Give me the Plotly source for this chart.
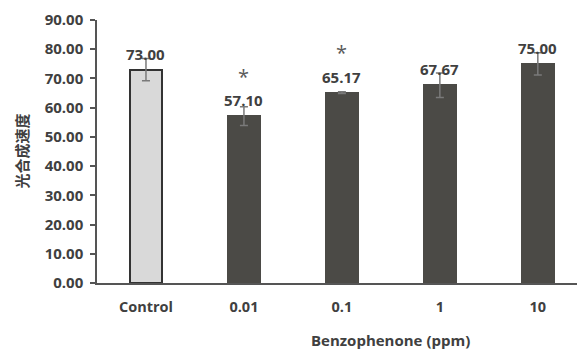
import plotly.graph_objects as go

categories = ["Control", "0.01", "0.1", "1", "10"]
values = [73.00, 57.10, 65.17, 67.67, 75.00]
errors = [3.8, 3.2, 0.3, 4.2, 3.8]
labels = ["73.00", "57.10", "65.17", "67.67", "75.00"]
significant = [False, True, True, False, False]
y_ticks = [0, 10, 20, 30, 40, 50, 60, 70, 80, 90]

txt = "#404040"
font_main = "Open Sans, Noto Sans, sans-serif"

fill_colors = ["#d9d9d9"] + ["#4b4a46"] * 4
line_colors = ["#333333"] + ["#4b4a46"] * 4

fig = go.Figure()
fig.add_trace(go.Bar(
    x=categories, y=values,
    width=0.33,
    marker=dict(color=fill_colors, line=dict(color=line_colors, width=2)),
    error_y=dict(type="data", array=errors, color="#7a7a7a", thickness=1.5, width=4),
    showlegend=False,
))

for i, (v, lab, sig) in enumerate(zip(values, labels, significant)):
    fig.add_annotation(x=i, y=v, text=lab, showarrow=False, yshift=16,
                       font=dict(family=font_main, size=15, color=txt, weight="bold"))
    if sig:
        fig.add_annotation(x=i, y=v, text="*", showarrow=False, yshift=40,
                           font=dict(family=font_main, size=20, color="#5a5a5a"))

fig.add_annotation(text="Benzophenone (ppm)", xref="paper", yref="paper",
                   x=(390 - 97) / 480, y=-(340 - 283.3) / 263.3, showarrow=False,
                   xanchor="center", yanchor="middle",
                   font=dict(family=font_main, size=15, color=txt, weight="bold"))

fig.add_annotation(text="光合成速度", xref="paper", yref="paper",
                   x=-(97 - 21) / 480, y=0.5, textangle=-90, showarrow=False,
                   xanchor="center", yanchor="middle",
                   font=dict(family="Noto Sans CJK SC", size=15, color=txt, weight="bold"))

fig.update_layout(
    width=577, height=351,
    margin=dict(l=97, r=0, t=20, b=68),
    plot_bgcolor="white", paper_bgcolor="white",
    bargap=0,
    xaxis=dict(type="category", range=[-0.5, 4.4], showgrid=False, showline=True,
               linecolor="#555555", automargin=False,
               linewidth=1.5, ticks="", tickfont=dict(family=font_main, size=14.5, color=txt, weight="bold"),
               ticklabelstandoff=10),
    yaxis=dict(range=[0, 90], tickvals=y_ticks, tickformat=".2f", showgrid=False,
               showline=True, linecolor="#555555", linewidth=1.5, ticks="outside",
               ticklen=5, tickcolor="#555555", tickwidth=1.5, zeroline=False, automargin=False,
               ticklabelstandoff=4,
               tickfont=dict(family=font_main, size=15, color=txt, weight="bold")),
)

fig.write_html("out.html", config={"displayModeBar": False},
               post_script="document.body.style.margin='0';")
